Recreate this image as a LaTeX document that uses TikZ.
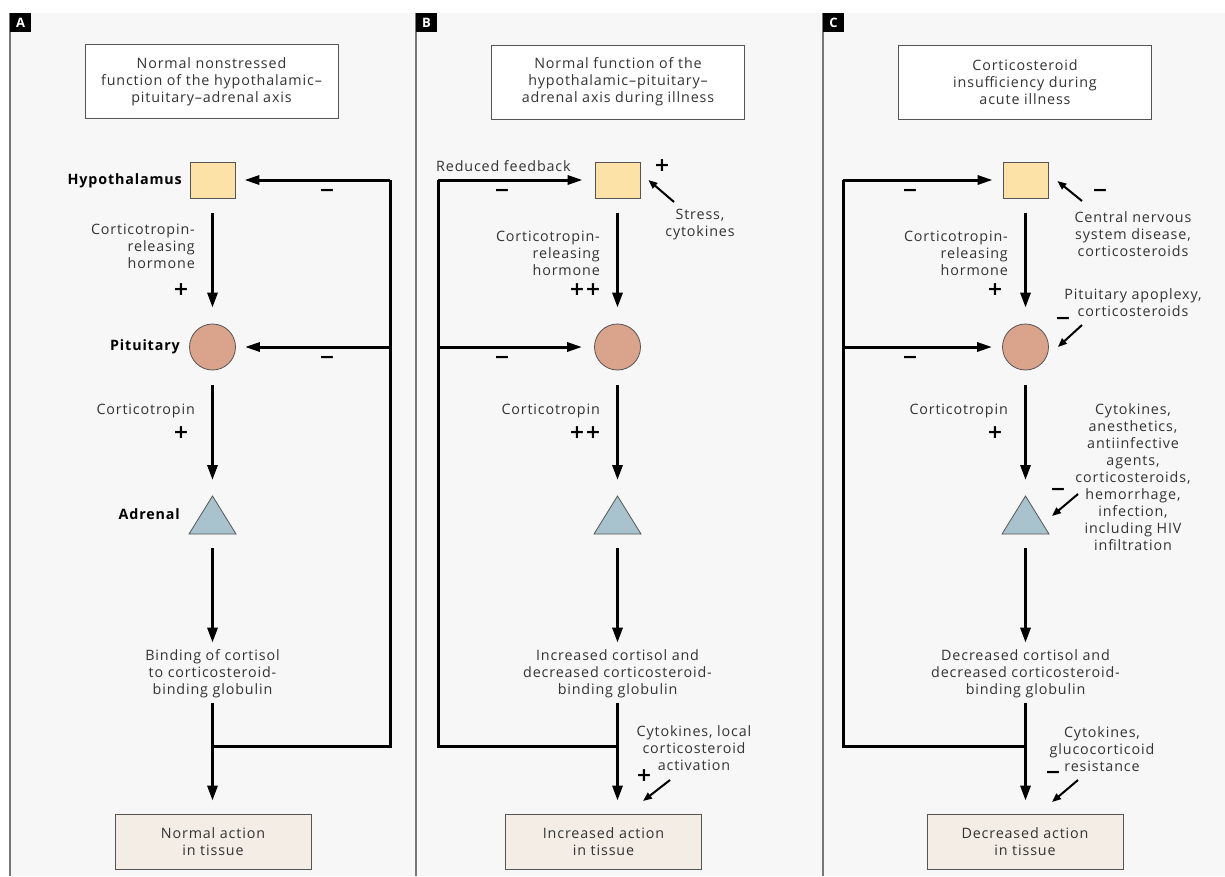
\documentclass[tikz,border=0pt]{standalone}
\usepackage{fontspec}
\setmainfont{Open Sans}[LetterSpace=6]
\newfontfamily\symfont{DejaVu Sans}
\usetikzlibrary{arrows.meta,calc}
\definecolor{panelbg}{HTML}{F7F7F7}
\definecolor{hypfill}{HTML}{FDE2A8}
\definecolor{pitfill}{HTML}{DAA38C}
\definecolor{adrfill}{HTML}{A9C3CE}
\definecolor{boxfill}{HTML}{F3EDE6}
\definecolor{txtc}{HTML}{333333}
\definecolor{edgec}{HTML}{555555}
\definecolor{bordc}{HTML}{777777}
\begin{document}
\begin{tikzpicture}[x=1pt,y=-1pt,
  txt/.style={font=\fontsize{14.3}{17}\selectfont, text=txtc, align=center, inner sep=0pt},
  rtxt/.style={txt, align=right, anchor=east},
  btxt/.style={font=\fontsize{14.3}{17}\selectfont\bfseries, text=black, inner sep=0pt, anchor=east},
  sgn/.style={font=\symfont\fontsize{19}{19}\selectfont\bfseries, text=black, inner sep=0pt},
  titlebox/.style={draw=edgec, line width=0.8pt, fill=white, minimum width=253pt, minimum height=74pt, txt},
  endbox/.style={draw=edgec, line width=0.8pt, fill=boxfill, minimum width=196pt, minimum height=55pt, txt},
  hypo/.style={draw=edgec, line width=0.8pt, fill=hypfill, minimum width=45pt, minimum height=36pt, inner sep=0pt},
  pitu/.style={draw=edgec, line width=0.8pt, fill=pitfill, circle, minimum size=46pt, inner sep=0pt},
  tag/.style={fill=black, text=white, font=\fontsize{13}{13}\selectfont\bfseries, minimum width=21pt, minimum height=19pt, inner sep=0pt},
  arr/.style={line width=3pt, -{Triangle[length=15pt,width=10pt]}},
  fb/.style={line width=3pt, -{Triangle[length=15pt,width=9pt]}},
  fbline/.style={line width=3pt},
  sarr/.style={line width=2pt, -{Triangle[length=9pt,width=7pt]}},
  adrstyle/.style={draw=edgec, line width=0.8pt, fill=adrfill}
]
\useasboundingbox (0,0) rectangle (1225,876);
\fill[white] (0,0) rectangle (1225,876);
\fill[panelbg] (10,13) rectangle (1225,876);
\draw[bordc, line width=2pt] (10,13) -- (10,876);
\draw[bordc, line width=2pt] (416,13) -- (416,876);
\draw[bordc, line width=2pt] (823,13) -- (823,876);
\node[tag] (tA) at (20.5,22.5) {A};
\node[tag] (tB) at (426.5,22.5) {B};
\node[tag] (tC) at (833.5,22.5) {C};

% ================= Panel A =================
\node[titlebox] (TA) at (211.5,81.5) {Normal nonstressed\\function of the hypothalamic--\\pituitary--adrenal axis};
\node[hypo] (hA) at (212.5,180) {};
\node[pitu] (pA) at (212.5,347) {};
\draw[adrstyle] (189,534) -- (212.5,496) -- (236,534) -- cycle;
\coordinate (aAt) at (212.5,496);
\coordinate (aAb) at (212.5,534);
\node[btxt] (lhA) at (182,181) {Hypothalamus};
\node[btxt] (lpA) at (180,347) {Pituitary};
\node[btxt] (laA) at (180,514) {Adrenal};
\node[rtxt] (crhA) at (195,246) {Corticotropin-\\releasing\\hormone};
\node[sgn] (pl1A) at (181,290) {+};
\node[rtxt] (ctA) at (195,411) {Corticotropin};
\node[sgn] (pl2A) at (181,433) {+};
\node[txt] (bgA) at (212.5,674) {Binding of cortisol\\to corticosteroid-\\binding globulin};
\node[endbox] (eA) at (213,841.5) {Normal action\\in tissue};
\draw[arr] ([yshift=-15pt]hA.south) -- ([yshift=16pt]pA.north);
\draw[arr] ([yshift=-15pt]pA.south) -- ([yshift=16pt]aAt);
\draw[arr] ([yshift=-14pt]aAb) -- ([yshift=7pt]bgA.north);
\coordinate (jA) at (212.5,746);
\coordinate (cA1) at (390,746);
\coordinate (cA2) at (390,180);
\coordinate (cA3) at (390,347);
\draw[arr] ([yshift=-5pt]bgA.south) -- ([yshift=13pt]bgA.south |- eA.north);
\draw[fbline] (jA) -- (cA1) -- (cA2);
\draw[fb, shorten >=9pt] (cA2) -- (hA.east);
\draw[fb, shorten >=9pt] (cA3) -- (pA.east);
\node[sgn] (m1A) at (327,193) {−};
\node[sgn] (m2A) at (327,360) {−};

% ================= Panel B =================
\node[titlebox] (TB) at (618,82) {Normal function of the\\hypothalamic--pituitary--\\adrenal axis during illness};
\node[hypo] (hB) at (617.5,180) {};
\node[pitu] (pB) at (617.5,347) {};
\draw[adrstyle] (594,534) -- (617.5,496) -- (641,534) -- cycle;
\coordinate (aBt) at (617.5,496);
\coordinate (aBb) at (617.5,534);
\node[rtxt] (crhB) at (600,253) {Corticotropin-\\releasing\\hormone};
\node[sgn] (pl1B) at (585,290) {++};
\node[rtxt] (ctB) at (600,411) {Corticotropin};
\node[sgn] (pl2B) at (585,433) {++};
\node[txt] (bgB) at (617.5,674) {Increased cortisol and\\decreased corticosteroid-\\binding globulin};
\node[endbox] (eB) at (603.5,841.5) {Increased action\\in tissue};
\draw[arr] ([yshift=-15pt]hB.south) -- ([yshift=16pt]pB.north);
\draw[arr] ([yshift=-15pt]pB.south) -- ([yshift=16pt]aBt);
\draw[arr] ([yshift=-14pt]aBb) -- ([yshift=7pt]bgB.north);
\draw[arr] ([yshift=-5pt]bgB.south) -- ([yshift=13pt]bgB.south |- eB.north);
\coordinate (jB) at (617.5,746);
\coordinate (cB1) at (438,746);
\coordinate (cB2) at (438,180);
\coordinate (cB3) at (438,347);
\draw[fbline] (jB) -- (cB1) -- (cB2);
\draw[fb, shorten >=12pt] (cB2) -- (hB.west);
\draw[fb, shorten >=12pt] (cB3) -- (pB.west);
\node[txt, anchor=west] (rfB) at (436,166) {Reduced feedback};
\node[sgn] (m1B) at (502,193) {−};
\node[sgn] (m2B) at (502,360) {−};
\node[sgn] (psB) at (662,166) {+};
\node[txt] (stB) at (700,225) {Stress,\\cytokines};
\coordinate (stBt) at (674,202);
\draw[sarr] (stBt) -- ([xshift=8pt]hB.east);
\node[txt] (ckB) at (694,748) {Cytokines, local\\corticosteroid\\activation};
\node[sgn] (pl3B) at (644,776) {+};
\coordinate (ckBt) at (670,780);
\coordinate (ckBh) at (643,801);
\draw[sarr] (ckBt) -- (ckBh);

% ================= Panel C =================
\node[titlebox] (TC) at (1025,82) {Corticosteroid\\insufficiency during\\acute illness};
\node[hypo] (hC) at (1025.5,180) {};
\node[pitu] (pC) at (1025.5,347) {};
\draw[adrstyle] (1002,534) -- (1025.5,496) -- (1049,534) -- cycle;
\coordinate (aCt) at (1025.5,496);
\coordinate (aCb) at (1025.5,534);
\node[rtxt] (crhC) at (1008,253) {Corticotropin-\\releasing\\hormone};
\node[sgn] (pl1C) at (995,290) {+};
\node[rtxt] (ctC) at (1008,411) {Corticotropin};
\node[sgn] (pl2C) at (995,433) {+};
\node[txt] (bgC) at (1025.5,674) {Decreased cortisol and\\decreased corticosteroid-\\binding globulin};
\node[endbox] (eC) at (1025,841.5) {Decreased action\\in tissue};
\draw[arr] ([yshift=-15pt]hC.south) -- ([yshift=16pt]pC.north);
\draw[arr] ([yshift=-15pt]pC.south) -- ([yshift=16pt]aCt);
\draw[arr] ([yshift=-14pt]aCb) -- ([yshift=7pt]bgC.north);
\draw[arr] ([yshift=-5pt]bgC.south) -- ([yshift=13pt]bgC.south |- eC.north);
\coordinate (jC) at (1025.5,746);
\coordinate (cC1) at (843,746);
\coordinate (cC2) at (843,180);
\coordinate (cC3) at (843,347);
\draw[fbline] (jC) -- (cC1) -- (cC2);
\draw[fb, shorten >=10pt] (cC2) -- (hC.west);
\draw[fb, shorten >=10pt] (cC3) -- (pC.west);
\node[sgn] (m1C) at (910,193) {−};
\node[sgn] (m2C) at (910,360) {−};
\node[sgn] (m3C) at (1100,193) {−};
\node[txt] (cnsC) at (1133,234) {Central nervous\\system disease,\\corticosteroids};
\coordinate (cnsCt) at (1082,201);
\draw[sarr] (cnsCt) -- ([xshift=9pt,yshift=-1pt]hC.east);
\node[txt] (apC) at (1133,303) {Pituitary apoplexy,\\corticosteroids};
\node[sgn] (m4C) at (1063,321) {−};
\coordinate (apCt) at (1082,325);
\draw[sarr] (apCt) -- ([xshift=9pt]pC.east);
\node[txt] (ckC) at (1133,477.5) {Cytokines,\\anesthetics,\\antiinfective\\agents,\\corticosteroids,\\hemorrhage,\\infection,\\including HIV\\infiltration};
\node[sgn] (m5C) at (1058,492) {−};
\coordinate (ckCt) at (1078,494);
\coordinate (ckCh) at (1052,516);
\draw[sarr] (ckCt) -- (ckCh);
\node[txt] (grC) at (1102,749) {Cytokines,\\glucocorticoid\\resistance};
\node[sgn] (m6C) at (1053,775) {−};
\coordinate (grCt) at (1078,780);
\coordinate (grCh) at (1052,802);
\draw[sarr] (grCt) -- (grCh);
\end{tikzpicture}
\end{document}
